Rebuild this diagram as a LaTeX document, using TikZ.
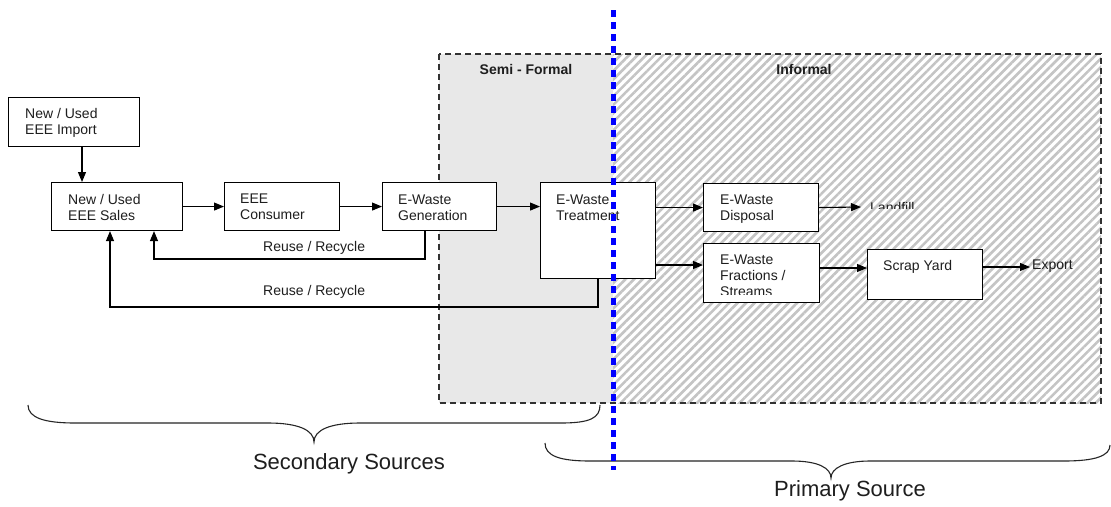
\documentclass[tikz,border=0pt]{standalone}
\usepackage{fontspec}
\setmainfont{Liberation Sans}
\usetikzlibrary{arrows.meta,patterns.meta}
\definecolor{semigray}{RGB}{232,232,232}
\definecolor{hatchgray}{RGB}{196,196,196}
\definecolor{bordergray}{RGB}{50,50,50}
\definecolor{dotblue}{RGB}{0,0,255}
\definecolor{txtgray}{RGB}{30,30,30}
\begin{document}
\begin{tikzpicture}[x=1pt,y=-1pt,
  box/.style={draw=black, fill=white, line width=1.1pt, rectangle, inner sep=0pt, anchor=north west},
  btext/.style={anchor=north west, align=left, inner sep=0pt, text=txtgray, font=\fontsize{14}{16}\selectfont},
  lbl/.style={anchor=west, inner sep=0pt, text=txtgray, font=\fontsize{14}{16}\selectfont},
  zone/.style={anchor=north, inner sep=0pt, text=txtgray, font=\bfseries\fontsize{14}{16}\selectfont},
  big/.style={anchor=center, inner sep=0pt, text=txtgray, font=\fontsize{22}{26}\selectfont},
  arr/.style={draw=black, line width=1.1pt, -{Triangle[length=10pt,width=8pt]}},
  brace/.style={draw=black!85, line width=1.1pt}]
\useasboundingbox (0,0) rectangle (1111,506);
\fill[white] (0,0) rectangle (1111,506);

% zones
\fill[semigray] (439,54) rectangle (613,403);
\fill[pattern={Lines[angle=45,distance=6pt,line width=2.6pt]}, pattern color=hatchgray] (613,54) rectangle (1101,403);
\draw[bordergray, line width=1.1pt, dash pattern=on 6pt off 4pt] (439,54) rectangle (1101,403);
\node[zone] (semi) at (526,64) {Semi - Formal};
\node[zone] (informal) at (804,64) {Informal};

% boxes
\node[box, minimum width=131pt, minimum height=49pt] (imp) at (8,97) {};
\node[btext] (impt) at (25,108) {New / Used\\EEE Import};
\node[box, minimum width=131pt, minimum height=48pt] (sales) at (51,182) {};
\node[btext] (salest) at (68,194) {New / Used\\EEE Sales};
\node[box, minimum width=115pt, minimum height=48pt] (cons) at (224,182) {};
\node[btext] (const) at (240,194) {EEE\\Consumer};
\node[box, minimum width=114pt, minimum height=48pt] (gen) at (382,182) {};
\node[btext] (gent) at (398,195) {E-Waste\\Generation};
\node[box, minimum width=115pt, minimum height=96pt] (treat) at (540,182) {};
\node[btext] (treatt) at (556,195) {E-Waste\\Treatment};
\node[box, minimum width=115pt, minimum height=48pt] (disp) at (703,183) {};
\node[btext] (dispt) at (720,195) {E-Waste\\Disposal};
\node[box, minimum width=116pt, minimum height=59pt] (frac) at (703,243) {};
\begin{scope}
\clip (703,243) rectangle (819,294);
\node[btext] (fract) at (720,255) {E-Waste\\Fractions /\\Streams};
\end{scope}
\node[box, minimum width=115pt, minimum height=50pt] (scrap) at (867,249) {};
\node[btext] (scrapt) at (883,260) {Scrap Yard};
\node[btext] (exp) at (1032,260) {Export};
\begin{scope}
\clip (860,195) rectangle (950,208);
\node[btext] (landt) at (870,202) {Landfill};
\end{scope}
\coordinate (lf) at (861,207);

% arrows
\draw[arr] (imp.south -| 82,0) -- (sales.north -| 82,0);
\draw[arr] (sales.east) -- (cons.west);
\draw[arr] (cons.east) -- (gen.west);
\draw[arr] (gen.east) -- (gen.east -| treat.west);
\draw[arr] (disp.west -| treat.east) -- (disp.west);
\draw[arr] (treat.east |- 0,265) -- (frac.west |- 0,265);
\draw[arr] (disp.east) -- (lf);
\draw[arr] (frac.east |- 0,268) -- (scrap.west |- 0,268);
\draw[arr] (scrap.east |- 0,267) -- ([xshift=-2pt]exp.west |- 0,267);
\draw[arr] (gen.south -| 425,0) |- (154,259) -- (sales.south -| 154,0);
\draw[arr] (treat.south -| 598,0) |- (110,307) -- (sales.south -| 110,0);
\node[lbl] (rr1) at (263,248) {Reuse / Recycle};
\node[lbl] (rr2) at (263,292) {Reuse / Recycle};

% braces
\draw[brace] (28,405) .. controls (28,418) and (45,423) .. (75,423) -- (268,423)
  .. controls (298,423) and (314,430) .. (314,442)
  .. controls (314,430) and (330,423) .. (360,423) -- (561,423)
  .. controls (590,423) and (600,418) .. (600,405);
\node[big] (sec) at (349,464) {Secondary Sources};
\draw[brace] (545,443) .. controls (545,456) and (560,461) .. (590,461) -- (792,461)
  .. controls (818,461) and (831,468) .. (831,478)
  .. controls (831,468) and (845,461) .. (870,461) -- (1064,461)
  .. controls (1095,461) and (1110,456) .. (1110,445);
\node[big] (prim) at (850,491) {Primary Source};

% blue dotted divider
\coordinate (bt) at (613,10);
\coordinate (bb) at (613,470);
\draw[dotblue, line width=5pt, dash pattern=on 7pt off 5pt] (bt) -- (bb);
\end{tikzpicture}
\end{document}
